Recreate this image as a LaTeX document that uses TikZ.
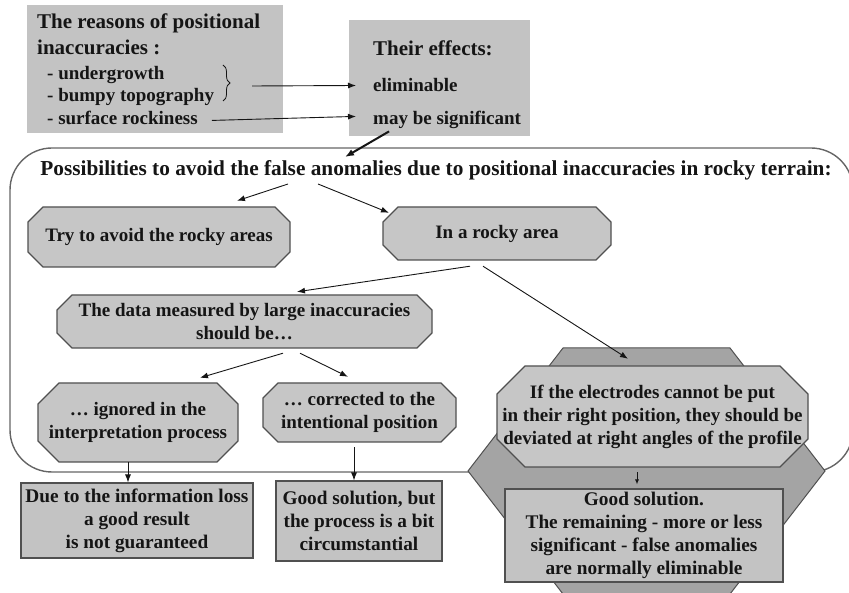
\documentclass[tikz,border=0pt]{standalone}
\usepackage{fontspec}
\setmainfont{Liberation Serif}
\usetikzlibrary{arrows.meta,decorations.pathreplacing}
\definecolor{boxgray}{HTML}{C3C3C3}
\definecolor{octgray}{HTML}{C6C6C6}
\definecolor{hexgray}{HTML}{A4A4A4}
\definecolor{edgegray}{HTML}{505050}
\definecolor{framegray}{HTML}{656565}
\definecolor{inkblack}{HTML}{151515}
\newcommand\octo[7]{%
  \filldraw[octshape] ({#2+#6},#3) -- ({#4-#6},#3) -- (#4,{#3+#6}) -- (#4,{#5-#6}) -- ({#4-#6},#5) -- ({#2+#6},#5) -- (#2,{#5-#6}) -- (#2,{#3+#6}) -- cycle;
  \node[octtext, minimum width={#4-#2}, minimum height={#5-#3}] (#1) at ({(#2+#4)/2},{(#3+#5)/2}) {#7};%
}
\tikzset{
 octshape/.style={fill=octgray, draw=edgegray, line width=1.1pt},
 octtext/.style={inner sep=0pt, align=center, font=\bfseries\fontsize{19}{23}\selectfont, text=inkblack},
 rectbox/.style={fill=boxgray, draw=edgegray, line width=1.1pt, inner sep=0pt, align=center, font=\bfseries\fontsize{19.3}{23}\selectfont, text=inkblack},
 plainbox/.style={fill=boxgray, inner sep=0pt},
 lbl/.style={inner sep=0pt, anchor=base west, font=\bfseries\fontsize{19}{23}\selectfont, text=inkblack},
 headlbl/.style={lbl, font=\bfseries\fontsize{21}{25}\selectfont},
 arr/.style={draw=inkblack, line width=0.9pt, -{Latex[length=8pt,width=6pt]}},
 smallarr/.style={draw=inkblack, line width=0.9pt, -{Latex[length=5pt,width=4pt]}},
 thickarr/.style={draw=inkblack, line width=2pt, -{Latex[length=9pt,width=7pt]}},
 framestyle/.style={draw=framegray, line width=1.4pt},
 hexshape/.style={fill=hexgray, draw=edgegray, line width=1pt},
}
\begin{document}
\begin{tikzpicture}[x=1pt,y=-1pt]
\useasboundingbox (0,0) rectangle (849,593);

% top boxes
\node[plainbox, minimum width=256, minimum height=128, anchor=north west] (reasonsbox) at (27,5) {};
\node[plainbox, minimum width=181, minimum height=116, anchor=north west] (effectsbox) at (349,20) {};

\node[headlbl] (h1) at (37,29) {The reasons of positional};
\node[headlbl] (h2) at (37,55) {inaccuracies :};
\node[lbl] (und) at (47,80) {- undergrowth};
\node[lbl] (bump) at (47,102) {- bumpy topography};
\node[lbl] (rock) at (47,125) {- surface rockiness};
\draw[line width=0.8pt, inkblack, decorate, decoration={brace, amplitude=7pt}] (223,65) -- (223,101);
\coordinate (bracetip) at (252,86);

\node[headlbl] (eff) at (373,56) {Their effects:};
\node[lbl] (elim) at (373,92) {eliminable};
\node[lbl] (sig) at (373,125) {may be significant};

\draw[arr] (bracetip) -- ([xshift=-17pt]elim.west);
\draw[arr] ([xshift=14pt,yshift=-2pt]rock.east) -- ([xshift=-17pt,yshift=4pt]sig.west);

% frame
\draw[framestyle, rounded corners=42pt] (10,148) rectangle (853,472);

\node[inner sep=0pt, font=\bfseries\fontsize{21.3}{25}\selectfont, text=inkblack] (title) at (436,170)
  {Possibilities to avoid the false anomalies due to positional inaccuracies in rocky terrain:};

\draw[thickarr] ([xshift=-58pt,yshift=-2pt]sig.south) -- ([xshift=-91pt,yshift=3pt]title.north);

% hexagon behind
\filldraw[hexshape] (563,348) -- (730,348) -- (825,471) -- (730,594) -- (563,594) -- (468,471) -- cycle;

\octo{try}{28}{207}{290}{267}{15}{Try to avoid the rocky areas}
\octo{rocky}{383}{207}{611}{260}{15}{In a rocky area}
\octo{data}{57}{295}{432}{348}{15}{The data measured by large inaccuracies\\should be…}
\octo{ign}{38}{383}{238}{462}{21}{… ignored in the\\interpretation process}
\octo{corr}{263}{383}{456}{442}{15}{… corrected to the\\intentional position}
\octo{elec}{497}{366}{808}{467}{28}{If the electrodes cannot be put\\in their right position, they should be\\deviated at right angles of the profile}

\node[rectbox, minimum width=232, minimum height=75] (loss) at (137,520.5) {Due to the information loss\\a good result\\is not guaranteed};
\node[rectbox, minimum width=166, minimum height=80] (good1) at (359,521) {Good solution, but\\the process is a bit\\circumstantial};
\node[rectbox, minimum width=278, minimum height=93] (good2) at (644,535.5) {Good solution.\\The remaining - more or less\\significant - false anomalies\\are normally eliminable};

% connectors
\draw[arr] ([xshift=-148pt,yshift=-4pt]title.south) -- ([xshift=78pt,yshift=6pt]try.north);
\draw[arr] ([xshift=-118pt,yshift=-4pt]title.south) -- ([xshift=-108pt,yshift=-6pt]rocky.north);
\draw[arr] ([xshift=-27pt,yshift=-6pt]rocky.south) -- ([xshift=52.5pt,yshift=3pt]data.north);
\draw[arr] ([xshift=-14pt,yshift=-6pt]rocky.south) -- ([xshift=-24.5pt,yshift=7pt]elec.north);
\draw[arr] ([xshift=38.5pt,yshift=-5pt]data.south) -- ([xshift=62pt,yshift=5pt]ign.north);
\draw[arr] ([xshift=55.5pt,yshift=-5pt]data.south) -- ([xshift=-11.5pt,yshift=6pt]corr.north);
\draw[arr] ([xshift=-10pt]ign.south) -- ([xshift=-9pt]loss.north);
\draw[arr] ([xshift=-5.5pt,yshift=-5pt]corr.south) -- ([xshift=-5pt]good1.north);
\draw[smallarr] ([xshift=-15.5pt,yshift=-5pt]elec.south) -- ([xshift=-7pt,yshift=4pt]good2.north);
\end{tikzpicture}
\end{document}
